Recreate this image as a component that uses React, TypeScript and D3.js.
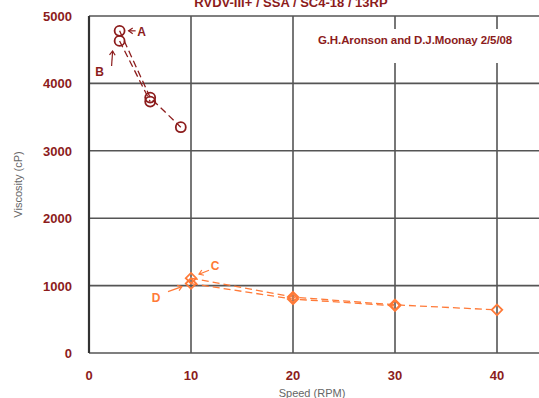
import { useEffect, useRef } from 'react';
import * as d3 from 'd3';

// speeds (RPM) and viscosities (cP)
const seriesASpeed = [3, 6, 9];
const seriesAVisc = [4780, 3790, 3350];
const seriesBSpeed = [3, 6];
const seriesBVisc = [4630, 3730];
const seriesCSpeed = [10, 20, 30, 40];
const seriesCVisc = [1110, 830, 715, 640];
const seriesDSpeed = [10, 20, 30];
const seriesDVisc = [1030, 800, 700];

const xTicks = [0, 10, 20, 30, 40];
const yTicks = [0, 1000, 2000, 3000, 4000, 5000];

const title = 'RVDV-III+ / SSA / SC4-18 / 13RP';
const note = 'G.H.Aronson and D.J.Moonay 2/5/08';

const DARK = '#8c1c1c';
const ORANGE = '#ff7a38';

export default function App() {
  const svgRef = useRef<SVGSVGElement>(null);
  const width = 539;
  const height = 398;

  useEffect(() => {
    if (!svgRef.current) return;
    const svg = d3.select(svgRef.current);
    svg.selectAll('*').remove();

    const x = d3.scaleLinear().domain([0, 45]).range([89, 548]);
    const y = d3.scaleLinear().domain([0, 5000]).range([353, 16]);

    svg.append('rect').attr('width', width).attr('height', height).attr('fill', '#fff');

    // grid
    const grid = svg.append('g').attr('stroke', '#555').attr('stroke-width', 1.6);
    yTicks.forEach(t => {
      grid.append('line')
        .attr('x1', x(0)).attr('x2', width)
        .attr('y1', y(t)).attr('y2', y(t));
    });
    xTicks.forEach(t => {
      grid.append('line')
        .attr('x1', x(t)).attr('x2', x(t))
        .attr('y1', y(5000)).attr('y2', y(0))
        .attr('stroke-width', t === 0 ? 2.2 : 1.6)
        .attr('stroke', t === 0 ? '#333' : '#555');
    });

    // white box behind the note
    svg.append('rect')
      .attr('x', 312).attr('y', 29)
      .attr('width', width - 312).attr('height', 34)
      .attr('fill', '#fff');

    svg.append('text')
      .attr('x', 415).attr('y', 44)
      .attr('text-anchor', 'middle')
      .attr('font-family', 'Liberation Sans, Arial, sans-serif')
      .attr('font-size', '11.5px')
      .attr('font-weight', 'bold')
      .attr('letter-spacing', '-0.1')
      .attr('fill', DARK)
      .text(note);

    // title
    svg.append('text')
      .attr('x', 291).attr('y', 7)
      .attr('text-anchor', 'middle')
      .attr('font-family', 'Liberation Sans, Arial, sans-serif')
      .attr('font-size', '13px')
      .attr('font-weight', 'bold')
      .attr('fill', DARK)
      .text(title);

    // tick labels
    xTicks.forEach(t => {
      svg.append('text')
        .attr('x', x(t)).attr('y', 380)
        .attr('text-anchor', 'middle')
        .attr('font-family', 'Liberation Sans, Arial, sans-serif')
        .attr('font-size', '13px')
        .attr('font-weight', 'bold')
        .attr('fill', DARK)
        .text(t);
    });
    yTicks.forEach(t => {
      svg.append('text')
        .attr('x', 72).attr('y', y(t) + 5)
        .attr('text-anchor', 'end')
        .attr('font-family', 'Liberation Sans, Arial, sans-serif')
        .attr('font-size', '13px')
        .attr('font-weight', 'bold')
        .attr('fill', DARK)
        .text(t);
    });

    // axis titles
    svg.append('text')
      .attr('x', 312).attr('y', 397)
      .attr('text-anchor', 'middle')
      .attr('font-family', 'Liberation Sans, Arial, sans-serif')
      .attr('font-size', '11px')
      .attr('fill', '#666')
      .text('Speed (RPM)');
    svg.append('text')
      .attr('transform', `translate(22,${y(2500)}) rotate(-90)`)
      .attr('text-anchor', 'middle')
      .attr('font-family', 'Liberation Sans, Arial, sans-serif')
      .attr('font-size', '11px')
      .attr('fill', '#666')
      .text('Viscosity (cP)');

    const line = d3.line<[number, number]>().x(d => x(d[0])).y(d => y(d[1]));
    const zip = (a: number[], b: number[]) => a.map((v, i) => [v, b[i]] as [number, number]);

    const series = [
      { pts: zip(seriesASpeed, seriesAVisc), color: DARK, shape: 'circle' },
      { pts: zip(seriesBSpeed, seriesBVisc), color: DARK, shape: 'circle' },
      { pts: zip(seriesCSpeed, seriesCVisc), color: ORANGE, shape: 'diamond' },
      { pts: zip(seriesDSpeed, seriesDVisc), color: ORANGE, shape: 'diamond' },
    ];

    series.forEach(s => {
      svg.append('path')
        .attr('d', line(s.pts))
        .attr('fill', 'none')
        .attr('stroke', s.color)
        .attr('stroke-width', 1.3)
        .attr('stroke-dasharray', '7,4');
    });

    const diamond = d3.symbol().type(d3.symbolDiamond2).size(70);
    series.forEach(s => {
      s.pts.forEach(p => {
        if (s.shape === 'circle') {
          svg.append('circle')
            .attr('cx', x(p[0])).attr('cy', y(p[1])).attr('r', 5)
            .attr('fill', 'none')
            .attr('stroke', s.color)
            .attr('stroke-width', 1.8);
        } else {
          svg.append('path')
            .attr('d', diamond())
            .attr('transform', `translate(${x(p[0])},${y(p[1])})`)
            .attr('fill', 'none')
            .attr('stroke', s.color)
            .attr('stroke-width', 1.8);
        }
      });
    });

    // point labels with arrows
    const labels = [
      { name: 'A', px: x(seriesASpeed[0]), py: y(seriesAVisc[0]), dx: 22, dy: 0, ax: 9, ay: 0, color: DARK },
      { name: 'B', px: x(seriesBSpeed[0]), py: y(seriesBVisc[0]), dx: -20, dy: 30, ax: -7, ay: 10, color: DARK },
      { name: 'C', px: x(seriesCSpeed[0]), py: y(seriesCVisc[0]), dx: 24, dy: -13, ax: 8, ay: -4, color: ORANGE },
      { name: 'D', px: x(seriesDSpeed[0]), py: y(seriesDVisc[0]), dx: -35, dy: 13, ax: -9, ay: 3, color: ORANGE },
    ];
    labels.forEach(l => {
      const tx = l.px + l.dx;
      const ty = l.py + l.dy;
      const hx = l.px + l.ax;
      const hy = l.py + l.ay;
      const sx = tx - Math.sign(l.dx) * 6 - (l.dx > 0 ? 0 : -6);
      const sy = ty - Math.sign(l.dy) * 5;
      svg.append('line')
        .attr('x1', sx).attr('y1', sy)
        .attr('x2', hx).attr('y2', hy)
        .attr('stroke', l.color).attr('stroke-width', 1.2);
      const ang = Math.atan2(hy - sy, hx - sx);
      const h = 5;
      const head = [
        [hx - h * Math.cos(ang - 0.6), hy - h * Math.sin(ang - 0.6)],
        [hx, hy],
        [hx - h * Math.cos(ang + 0.6), hy - h * Math.sin(ang + 0.6)],
      ];
      svg.append('path')
        .attr('d', d3.line()(head as [number, number][]))
        .attr('fill', 'none')
        .attr('stroke', l.color).attr('stroke-width', 1.2);
      svg.append('text')
        .attr('x', tx).attr('y', ty + 5)
        .attr('text-anchor', 'middle')
        .attr('font-family', 'Liberation Sans, Arial, sans-serif')
        .attr('font-size', '12px')
        .attr('font-weight', 'bold')
        .attr('fill', l.color)
        .text(l.name);
    });
  }, []);

  return (
    <svg
      ref={svgRef}
      width={width}
      height={height}
      style={{ position: 'absolute', left: 0, top: 0 }}
    />
  );
}
